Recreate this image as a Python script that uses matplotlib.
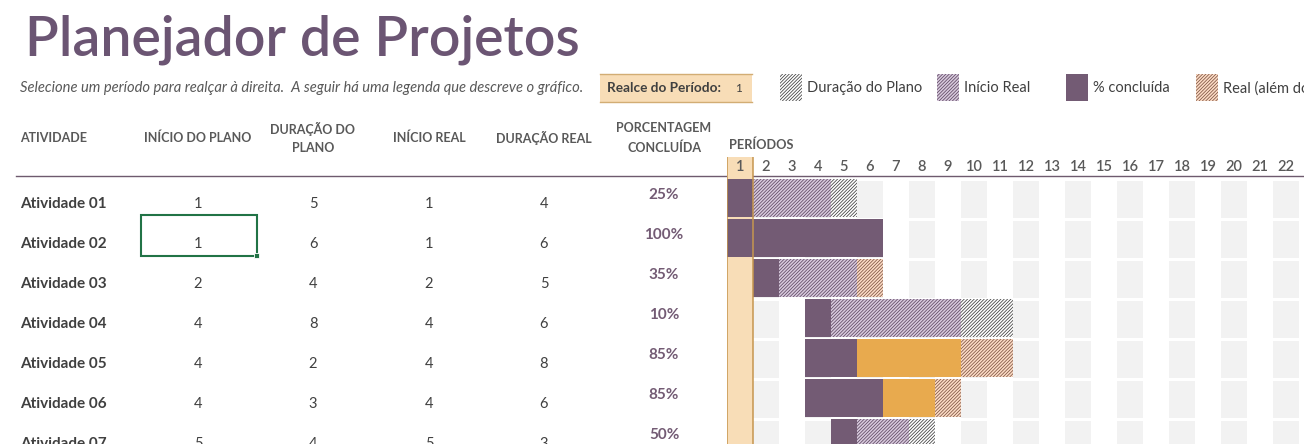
import matplotlib; matplotlib.use("Agg")
import matplotlib.pyplot as plt
from matplotlib.patches import Rectangle

# dados da tabela
atividades = ["Atividade 01", "Atividade 02", "Atividade 03", "Atividade 04", "Atividade 05", "Atividade 06", "Atividade 07"]
inicio_plano = [1, 1, 2, 4, 4, 4, 5]
duracao_plano = [5, 6, 4, 8, 2, 3, 4]
inicio_real = [1, 1, 2, 4, 4, 4, 5]
duracao_real = [4, 6, 5, 6, 8, 6, 3]
pct_concluida = [0.25, 1.00, 0.35, 0.10, 0.85, 0.85, 0.50]
periodos = list(range(1, 23))
realce = 1

plt.rcParams.update({"font.family": ["Lato", "DejaVu Sans"], "hatch.linewidth": 0.55})
ROXO = "#735b74"; LARANJA = "#e8aa4e"; CINZA = "#f2f2f2"; REALCE = "#f8ddb7"; BORDA = "#c6964f"
TXT = "#404040"; TXT2 = "#595959"
HT = "/" * 10
ESTILO = {  # categoria -> (fill, hatch color, hatch)
    "plano": ("white", "#3d3d3d", HT),
    "real": ("#d8cadd", "#5e4862", HT),
    "concl": (ROXO, ROXO, None),
    "concl_alem": (LARANJA, LARANJA, None),
    "real_alem": ("#fcdcc6", "#7d5442", HT),
}

fig = plt.figure(figsize=(13.04, 4.44), dpi=100)
ax = fig.add_axes([0, 0, 1, 1]); ax.set_xlim(0, 1304); ax.set_ylim(444, 0); ax.axis("off")

# cabeçalho
ax.text(25, 40, "Planejador de Projetos", fontsize=40, weight="semibold", color="#6b5573", va="center", ha="left")
ax.text(20, 88, "Selecione um período para realçar à direita.  A seguir há uma legenda que descreve o gráfico.",
        fontsize=10.6, style="italic", color=TXT2, va="center")
ax.add_patch(Rectangle((600, 74), 152, 28, facecolor=REALCE, edgecolor="none"))
ax.plot([600, 752], [74, 74], color="#d2ad74", lw=1); ax.plot([600, 752], [102, 102], color="#d2ad74", lw=1)
ax.text(607, 88.5, "Realce do Período:", fontsize=9.8, weight="bold", color=TXT, va="center")
ax.text(738, 89, str(realce), fontsize=8.5, color=TXT, va="center", ha="center")

legenda = [(780, "plano", "Duração do Plano"), (937, "real", "Início Real"),
           (1066, "concl", "% concluída"), (1196, "real_alem", "Real (além do plano)")]
for x0, cat, lab in legenda:
    fc, hc, h = ESTILO[cat]
    ax.add_patch(Rectangle((x0, 74), 22, 27, facecolor=fc, edgecolor=hc, hatch=h, lw=0))
    ax.text(x0 + 27, 88, lab, fontsize=10.5, color=TXT, va="center", clip_on=True)

# tabela
hdr = [(20, "ATIVIDADE", "left"), (198, "INÍCIO DO PLANO", "center"), (313, "DURAÇÃO DO\nPLANO", "center"),
       (429, "INÍCIO REAL", "center"), (544, "DURAÇÃO REAL", "center"), (664, "PORCENTAGEM\nCONCLUÍDA", "center")]
for x, t, ha in hdr:
    ax.text(x, 138, t, fontsize=9, weight="bold", color=TXT2, ha=ha, va="center", linespacing=1.65)
ax.plot([16, 1304], [176, 176], color="#6e5a6e", lw=1)
for i, nome in enumerate(atividades):
    y = 204 + 40 * i
    ax.text(20, y, nome, fontsize=11, weight="bold", color=TXT, va="center")
    for x, v in zip([198, 313, 429, 544], [inicio_plano[i], duracao_plano[i], inicio_real[i], duracao_real[i]]):
        ax.text(x, y, str(v), fontsize=10.5, color=TXT, ha="center", va="center")
    ax.text(664, y - 9, f"{pct_concluida[i]*100:.0f}%", fontsize=11, weight="bold", color=ROXO, ha="center", va="center")
ax.add_patch(Rectangle((141, 215), 116, 41, facecolor="none", edgecolor="#217346", lw=1.5))
ax.add_patch(Rectangle((254, 253), 5, 5, facecolor="#217346", edgecolor="white", lw=0.6))
ax.text(729, 145, "PERÍODOS", fontsize=9.2, weight="bold", color=TXT2, va="center")

# gráfico de Gantt
gx = fig.add_axes([727 / 1304, 0, 577 / 1304, (444 - 157) / 444])
gx.set_xlim(0.5, 0.5 + 577 / 26); gx.set_ylim((444 - 177) / 40, -0.5); gx.axis("off"); gx.patch.set_alpha(0)
n = len(atividades)
for p in periodos:
    gx.text(p, -0.25, str(p), fontsize=10.5, color=TXT2, ha="center", va="center", weight="semibold")
    if p % 2 == 0 and p != realce:
        gx.barh([i + 0.56 for i in range(n)], 1, left=p - 0.5, height=0.92, color=CINZA, zorder=1)
gx.axvspan(realce - 0.5, realce + 0.5, color=REALCE, zorder=0.5, lw=0)

for i in range(n):
    ps, pd_, rs, rd, pc = inicio_plano[i], duracao_plano[i], inicio_real[i], duracao_real[i], pct_concluida[i]
    fim_c = max(int(rs + rd * pc), rs + 1) if pc > 0 else rs
    cats = {}
    for p in range(min(ps, rs), max(ps + pd_, rs + rd)):
        plano = ps <= p < ps + pd_; real = rs <= p < rs + rd; concl = real and p < fim_c
        if concl: cats[p] = "concl" if plano else "concl_alem"
        elif real: cats[p] = "real" if plano else "real_alem"
        elif plano: cats[p] = "plano"
    ks = sorted(cats); j = 0
    while j < len(ks):  # junta períodos seguidos da mesma categoria
        k = j
        while k + 1 < len(ks) and ks[k + 1] == ks[k] + 1 and cats[ks[k + 1]] == cats[ks[j]]: k += 1
        fc, hc, h = ESTILO[cats[ks[j]]]
        gx.barh(i + 0.53, ks[k] - ks[j] + 1, left=ks[j] - 0.5, height=0.96, color=fc, edgecolor=hc,
                hatch=h, lw=0, zorder=2)
        j = k + 1
for xv in (realce - 0.5, realce + 0.5):
    gx.axvline(xv, color=BORDA, lw=1.1, zorder=3)

fig.savefig("out.png", dpi=100)
